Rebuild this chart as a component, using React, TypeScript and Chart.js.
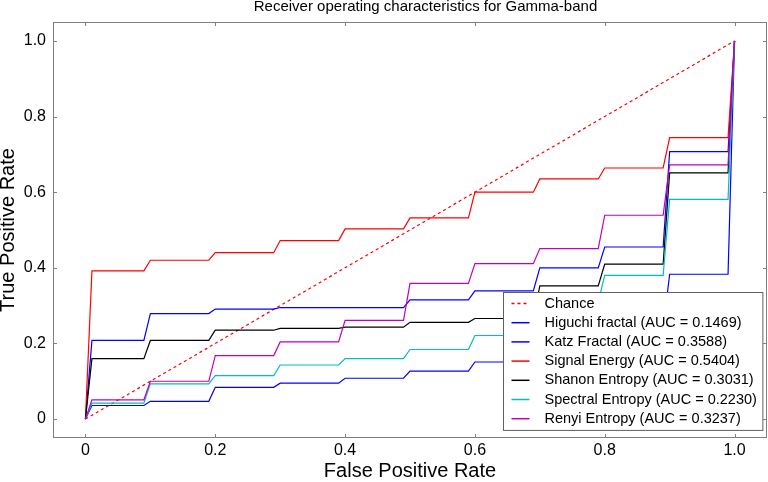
import React, { useEffect, useRef } from "react";
import { Chart, registerables } from "chart.js";

Chart.register(...registerables);

const TITLE = "Receiver operating characteristics for Gamma-band";
const X_TITLE = "False Positive Rate";
const Y_TITLE = "True Positive Rate";

const tickValues = [0, 0.2, 0.4, 0.6, 0.8, 1.0];

const chanceX = [0, 1];
const chanceY = [0, 1];

const fpr = [0, 0.01, 0.09, 0.1, 0.19, 0.2, 0.29, 0.3, 0.39, 0.4, 0.49, 0.5, 0.59, 0.6, 0.69, 0.7, 0.79, 0.8, 0.89, 0.9, 0.99, 1.0];

const higuchi = [0, 0.036, 0.036, 0.047, 0.047, 0.084, 0.084, 0.095, 0.095, 0.108, 0.108, 0.127, 0.127, 0.151, 0.151, 0.2, 0.2, 0.24, 0.24, 0.383, 0.383, 1.0];
const katz = [0, 0.208, 0.208, 0.279, 0.279, 0.291, 0.291, 0.295, 0.295, 0.295, 0.295, 0.315, 0.315, 0.339, 0.339, 0.4, 0.4, 0.455, 0.455, 0.707, 0.707, 1.0];
const signalEnergy = [0, 0.392, 0.392, 0.42, 0.42, 0.44, 0.44, 0.472, 0.472, 0.503, 0.503, 0.532, 0.532, 0.6, 0.6, 0.635, 0.635, 0.664, 0.664, 0.744, 0.744, 1.0];
const shanon = [0, 0.16, 0.16, 0.208, 0.208, 0.235, 0.235, 0.24, 0.24, 0.243, 0.243, 0.256, 0.256, 0.266, 0.266, 0.352, 0.352, 0.41, 0.41, 0.651, 0.651, 1.0];
const spectral = [0, 0.042, 0.042, 0.093, 0.093, 0.115, 0.115, 0.143, 0.143, 0.16, 0.16, 0.184, 0.184, 0.221, 0.221, 0.31, 0.31, 0.38, 0.38, 0.581, 0.581, 1.0];
const renyi = [0, 0.051, 0.051, 0.1, 0.1, 0.168, 0.168, 0.204, 0.204, 0.261, 0.261, 0.359, 0.359, 0.411, 0.411, 0.451, 0.451, 0.539, 0.539, 0.672, 0.672, 1.0];

const seriesLabels = [
  "Chance",
  "Higuchi fractal (AUC = 0.1469)",
  "Katz Fractal (AUC = 0.3588)",
  "Signal Energy (AUC = 0.5404)",
  "Shanon Entropy (AUC = 0.3031)",
  "Spectral Entropy (AUC = 0.2230)",
  "Renyi Entropy (AUC = 0.3237)",
];
const seriesColors = ["#ff0000", "#0000ff", "#0000ff", "#ff0000", "#000000", "#00bfbf", "#bf00bf"];

const FONT = "'Liberation Sans', Arial, Helvetica, sans-serif";

const toPoints = (xs: number[], ys: number[]) => xs.map((x, i) => ({ x, y: ys[i] }));

const framePlugin = {
  id: "frameTicks",
  afterDraw(chart: any) {
    const { ctx, chartArea } = chart;
    const { left, right, top, bottom } = chartArea;
    const xs = chart.scales.x;
    const ys = chart.scales.y;
    ctx.save();
    ctx.strokeStyle = "#808080";
    ctx.lineWidth = 1;
    ctx.strokeRect(Math.round(left) + 0.5, Math.round(top) + 0.5, Math.round(right - left) - 1, Math.round(bottom - top) - 1);
    const tl = 4;
    ctx.beginPath();
    tickValues.forEach((v) => {
      const px = Math.round(xs.getPixelForValue(v)) + 0.5;
      ctx.moveTo(px, top);
      ctx.lineTo(px, top + tl);
      ctx.moveTo(px, bottom);
      ctx.lineTo(px, bottom - tl);
      const py = Math.round(ys.getPixelForValue(v)) + 0.5;
      ctx.moveTo(left, py);
      ctx.lineTo(left + tl, py);
      ctx.moveTo(right, py);
      ctx.lineTo(right - tl, py);
    });
    ctx.stroke();
    // title
    ctx.fillStyle = "#000";
    ctx.font = "15px " + FONT;
    ctx.textAlign = "center";
    ctx.textBaseline = "alphabetic";
    ctx.fillText(TITLE, 425.5, 11);
    ctx.restore();
  },
};

const legendPlugin = {
  id: "insideLegend",
  afterDatasetsDraw(chart: any) {
    const { ctx, chartArea } = chart;
    ctx.save();
    ctx.font = "14.5px " + FONT;
    const datasets = chart.data.datasets;
    let maxW = 0;
    datasets.forEach((d: any) => {
      maxW = Math.max(maxW, ctx.measureText(d.label).width);
    });
    const rowH = 19.2;
    const w = 41 + maxW + 6;
    const h = 11 + rowH * (datasets.length - 1) + 11.7;
    const bx = Math.round(chartArea.right - 5 - w) + 0.5;
    const by = Math.round(chartArea.bottom - 8 - h) + 0.5;
    ctx.fillStyle = "#ffffff";
    ctx.fillRect(bx, by, w, h);
    ctx.strokeStyle = "#606060";
    ctx.lineWidth = 1;
    ctx.strokeRect(bx, by, w, h);
    datasets.forEach((d: any, i: number) => {
      const cy = by + 11 + rowH * i;
      ctx.beginPath();
      ctx.strokeStyle = d.borderColor;
      ctx.lineWidth = 1.5;
      ctx.setLineDash(d.borderDash || []);
      ctx.moveTo(bx + 8, cy);
      ctx.lineTo(bx + 26, cy);
      ctx.stroke();
      ctx.setLineDash([]);
      ctx.fillStyle = "#000";
      ctx.textAlign = "left";
      ctx.textBaseline = "middle";
      ctx.fillText(d.label, bx + 41, cy);
    });
    ctx.restore();
  },
};

export default function App() {
  const canvasRef = useRef<HTMLCanvasElement | null>(null);

  useEffect(() => {
    document.body.style.margin = "0";
    const canvas = canvasRef.current;
    if (!canvas) return;
    const seriesY = [higuchi, katz, signalEnergy, shanon, spectral, renyi];
    const n = seriesLabels.length;
    const datasets: any[] = [
      {
        label: seriesLabels[0],
        data: toPoints(chanceX, chanceY),
        borderColor: seriesColors[0],
        borderWidth: 1.2,
        borderDash: [3, 3],
        pointRadius: 0,
        showLine: true,
        fill: false,
        tension: 0,
        order: n,
      },
      ...seriesY.map((ys, i) => ({
        label: seriesLabels[i + 1],
        data: toPoints(fpr, ys),
        borderColor: seriesColors[i + 1],
        borderWidth: 1.2,
        pointRadius: 0,
        showLine: true,
        fill: false,
        tension: 0,
        order: n - (i + 1),
      })),
    ];

    const chart = new Chart(canvas, {
      type: "scatter",
      data: { datasets },
      options: {
        animation: false,
        responsive: false,
        layout: { padding: { top: 22, right: 1, left: 0, bottom: 0 } },
        plugins: {
          legend: { display: false },
          title: { display: false },
          tooltip: { enabled: false },
        },
        scales: {
          x: {
            type: "linear",
            min: -0.05,
            max: 1.05,
            afterBuildTicks: (s: any) => {
              s.ticks = tickValues.map((v) => ({ value: v }));
            },
            afterFit: (s: any) => {
              s.height = 44;
            },
            grid: { display: false, drawTicks: false },
            border: { display: false },
            ticks: {
              padding: 3,
              color: "#000",
              font: { family: FONT, size: 16 },
              maxRotation: 0,
              callback: (v: any) => (Number(v) === 0 ? "0" : Number(v).toFixed(1)),
            },
            title: {
              display: true,
              text: X_TITLE,
              color: "#000",
              font: { family: FONT, size: 20, lineHeight: 1 },
              padding: { top: 0, bottom: 1 },
            },
          },
          y: {
            type: "linear",
            min: -0.05,
            max: 1.05,
            afterBuildTicks: (s: any) => {
              s.ticks = tickValues.map((v) => ({ value: v }));
            },
            afterFit: (s: any) => {
              s.width = 53;
            },
            grid: { display: false, drawTicks: false },
            border: { display: false },
            ticks: {
              padding: 7,
              color: "#000",
              font: { family: FONT, size: 16 },
              callback: (v: any) => (Number(v) === 0 ? "0" : Number(v).toFixed(1)),
            },
            title: {
              display: true,
              text: Y_TITLE,
              color: "#000",
              font: { family: FONT, size: 20, lineHeight: 0.83 },
              padding: { top: 0, bottom: 0 },
            },
          },
        },
      },
      plugins: [legendPlugin, framePlugin],
    } as any);

    return () => {
      chart.destroy();
    };
  }, []);

  return (
    <div style={{ width: 768, height: 482, position: "relative", background: "#fff" }}>
      <canvas ref={canvasRef} width={768} height={482} style={{ display: "block" }} />
    </div>
  );
}
